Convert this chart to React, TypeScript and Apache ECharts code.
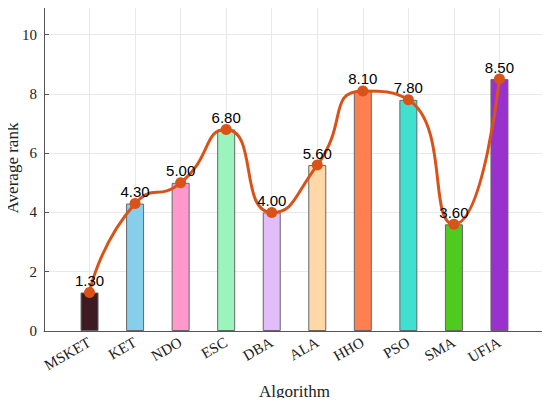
import React, { useEffect, useRef } from "react";
import * as echarts from "echarts";

const categories = ["MSKET", "KET", "NDO", "ESC", "DBA", "ALA", "HHO", "PSO", "SMA", "UFIA"];
const values = [1.3, 4.3, 5.0, 6.8, 4.0, 5.6, 8.1, 7.8, 3.6, 8.5];
const barColors = ["#3E1A22", "#87CEEB", "#FF99CC", "#99F5BB", "#E2BDFA", "#FFD8A8", "#FF7F50", "#40E0D0", "#4FCB1F", "#9932CC"];
const yTicks = [0, 2, 4, 6, 8, 10];

export default function App() {
  const ref = useRef<HTMLDivElement>(null);
  useEffect(() => {
    const chart = echarts.init(ref.current!, null, { renderer: "svg" });
    const cats = ["", ...categories, ""];
    const barData = [null, ...values.map((v, i) => ({ value: v, itemStyle: { color: barColors[i] } })), null];
    const lineData = [null, ...values, null];
    chart.setOption({
      animation: false,
      grid: { left: 44, right: 5, top: 5, bottom: 75, outerBoundsMode: "none", containLabel: false },
      xAxis: {
        type: "category",
        data: cats,
        boundaryGap: false,
        name: "Algorithm",
        nameLocation: "middle",
        nameGap: 52,
        nameMoveOverlap: false,
        nameTextStyle: { fontFamily: "Liberation Serif", fontSize: 17, color: "#222" },
        axisLine: { lineStyle: { color: "#555", width: 1 } },
        axisTick: { inside: true, length: 4, lineStyle: { color: "#555" } },
        axisLabel: { rotate: 30, fontFamily: "Liberation Serif", fontSize: 15, color: "#222", margin: 10, interval: 0 },
        splitLine: { show: true, lineStyle: { color: "#e8e8e8", width: 1 } },
      },
      yAxis: {
        type: "value",
        min: 0,
        max: 11,
        interval: 2,
        name: "Average rank",
        nameLocation: "middle",
        nameGap: 23,
        nameMoveOverlap: false,
        nameTextStyle: { fontFamily: "Liberation Serif", fontSize: 17, color: "#222" },
        axisLine: { show: true, lineStyle: { color: "#555", width: 1 } },
        axisTick: { show: true, inside: true, length: 5, lineStyle: { color: "#555" } },
        axisLabel: {
          fontFamily: "Liberation Serif",
          fontSize: 15,
          color: "#222",
          margin: 7,
          formatter: (v: number) => (yTicks.includes(v) ? String(v) : ""),
        },
        splitLine: { show: true, lineStyle: { color: "#e8e8e8", width: 1 } },
      },
      series: [
        {
          type: "bar",
          data: barData,
          barWidth: 18,
          itemStyle: { borderColor: "#666", borderWidth: 1 },
          z: 2,
        },
        {
          type: "line",
          data: lineData,
          smooth: 0.6,
          connectNulls: false,
          symbol: "circle",
          symbolSize: 11,
          lineStyle: { color: "#D95319", width: 3 },
          itemStyle: { color: "#D95319" },
          label: {
            show: true,
            position: "top",
            distance: -1,
            formatter: (p: any) => Number(p.value).toFixed(2),
            fontFamily: "Liberation Sans",
            fontSize: 15,
            color: "#000",
          },
          z: 3,
        },
      ],
    });
    return () => chart.dispose();
  }, []);
  return <div ref={ref} style={{ width: 550, height: 406, margin: -8 }} />;
}
